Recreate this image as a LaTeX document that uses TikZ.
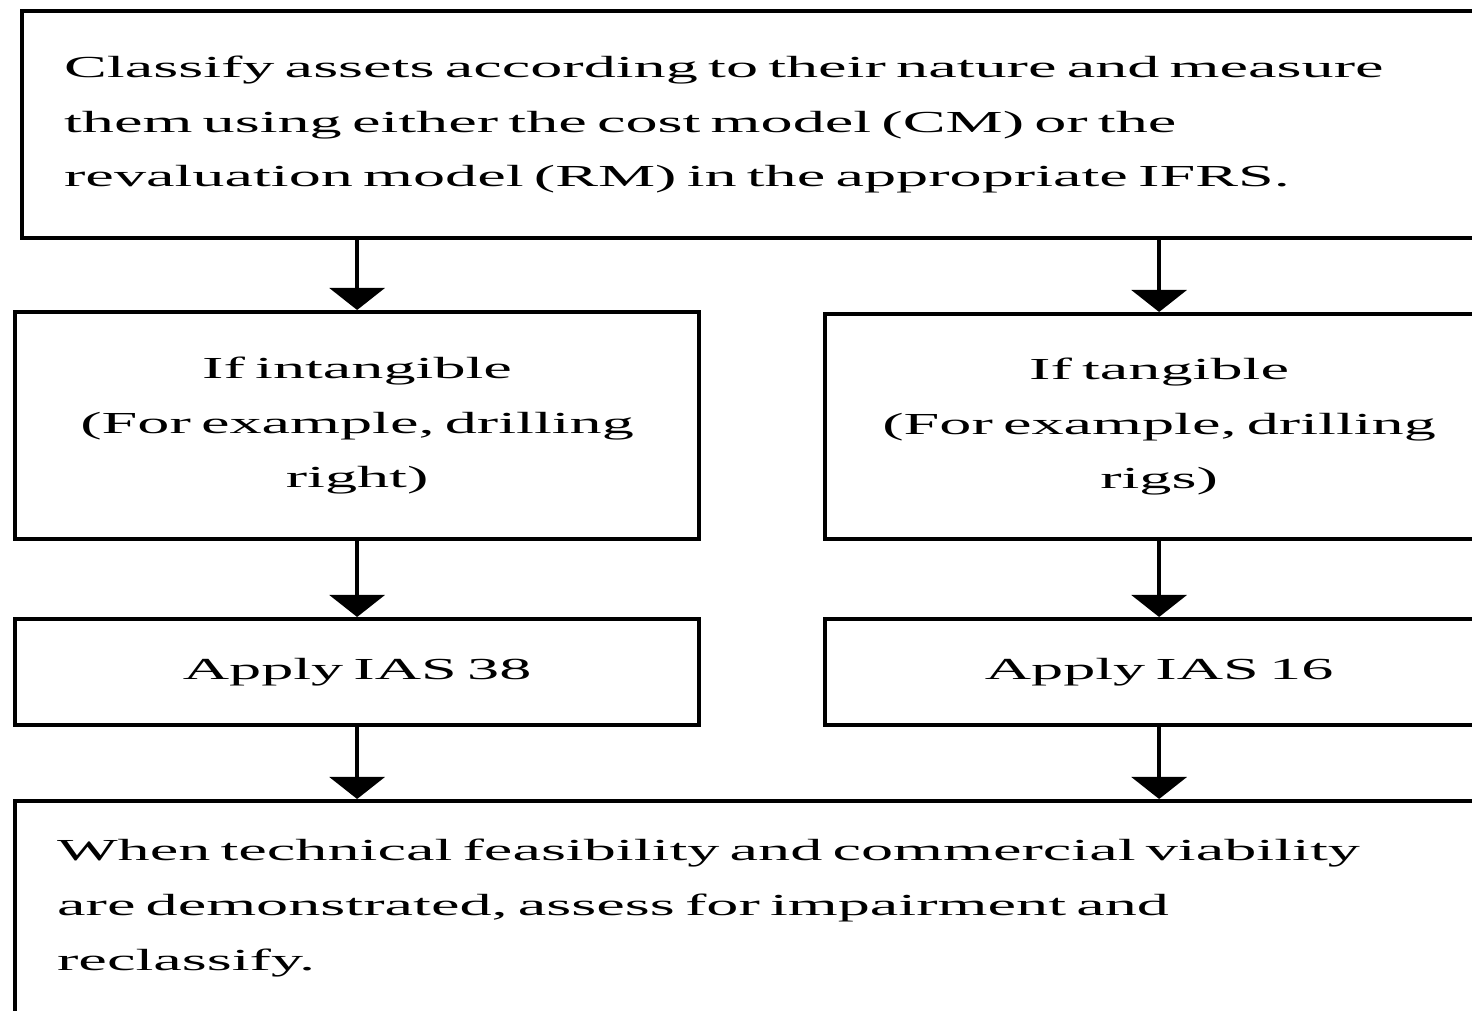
\documentclass[tikz,border=0pt]{standalone}
\usepackage{fontspec}
\setmainfont[FakeStretch=2.1]{Liberation Serif}
\usetikzlibrary{arrows.meta,positioning}

\begin{document}
\begin{tikzpicture}[>={Triangle[width=0.55cm,length=0.22cm]}, line width=1pt,
  box/.style={draw, line width=1.2pt, inner ysep=0pt, inner xsep=0.42cm, font=\fontsize{8.7}{15.6}\selectfont}]
 \path[use as bounding box, clip] (0,0) rectangle (14.72,-10.11);

 \node [box, anchor=north west, minimum height=2.27cm, text width=14.6cm, align=left] (classify) at (0.20,-0.09)
   {Classify assets according to their nature and measure\\them using either the cost model (CM) or the\\revaluation model (RM) in the appropriate IFRS.};
 \node [box, anchor=north west, minimum height=2.27cm, text width=6.0cm, align=center] (intang) at (0.13,-3.10)
   {If intangible\\(For example, drilling\\right)};
 \node [box, anchor=north west, minimum height=2.25cm, text width=5.84cm, align=center] (tang) at (8.23,-3.12)
   {If tangible\\(For example, drilling\\rigs)};
 \node [box, anchor=north west, minimum height=1.06cm, text width=6.0cm, align=center] (ias38) at (0.13,-6.17) {Apply IAS 38};
 \node [box, anchor=north west, minimum height=1.06cm, text width=5.84cm, align=center] (ias16) at (8.23,-6.17) {Apply IAS 16};
 \node [box, anchor=north west, minimum height=2.14cm, text width=14.6cm, align=left] (assess) at (0.13,-7.99)
   {When technical feasibility and commercial viability\\are demonstrated, assess for impairment and\\reclassify.};

 \draw [->] (classify.south -| intang.north) -- (intang.north);
 \draw [->] (classify.south -| tang.north) -- (tang.north);
 \draw [->] (intang) -- (ias38);
 \draw [->] (tang) -- (ias16);
 \draw [->] (ias38.south) -- (ias38.south |- assess.north);
 \draw [->] (ias16.south) -- (ias16.south |- assess.north);
\end{tikzpicture}
\end{document}
